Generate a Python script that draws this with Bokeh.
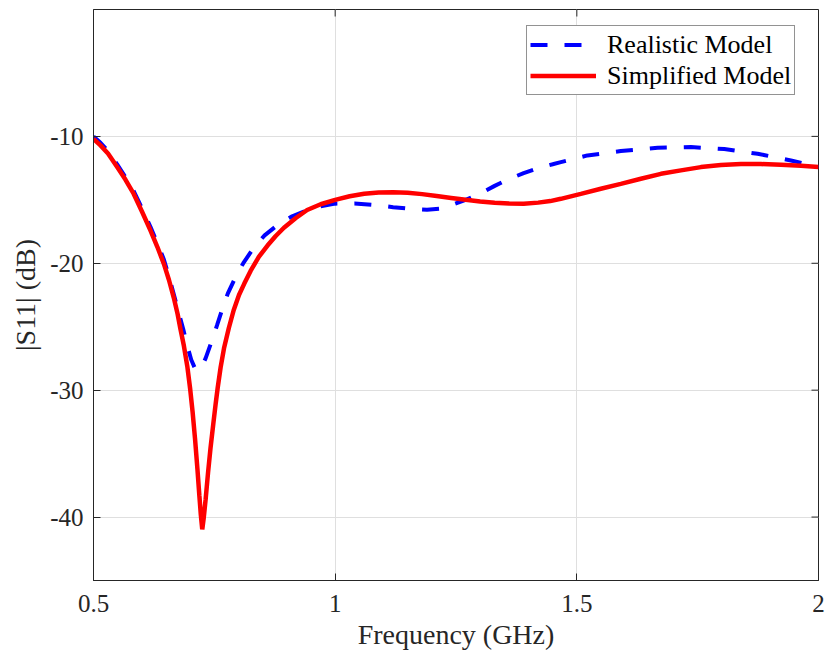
from bokeh.plotting import figure
from bokeh.models import (Range1d, FixedTicker, NumeralTickFormatter,
                          Legend, LegendItem, ColumnDataSource)
from bokeh.embed import file_html
from bokeh.resources import INLINE

# ---- data ----
freq_realistic = [0.500, 0.5145, 0.530, 0.549, 0.566, 0.583, 0.600, 0.618, 0.632, 0.6456,
                  0.655, 0.664, 0.675, 0.6857, 0.694, 0.7022, 0.709, 0.716, 0.723, 0.7319,
                  0.744, 0.756, 0.767, 0.778, 0.795, 0.811, 0.832, 0.854, 0.882, 0.911,
                  0.940, 0.970, 1.000, 1.040, 1.080, 1.120, 1.160, 1.190, 1.215, 1.240,
                  1.270, 1.300, 1.330, 1.360, 1.390, 1.420, 1.450, 1.4669, 1.522, 1.591,
                  1.667, 1.736, 1.805, 1.874, 1.943, 2.000]
s11_realistic = [-10.0, -10.5, -11.15, -12.2, -13.2, -14.3, -15.65, -17.15, -18.4, -19.7,
                 -20.9, -22.15, -23.7, -25.2, -26.5, -27.6, -28.2, -28.45, -28.2, -27.5,
                 -26.2, -24.84, -23.55, -22.37, -21.0, -19.92, -18.75, -17.8, -16.95, -16.3,
                 -15.85, -15.5, -15.3, -15.28, -15.4, -15.58, -15.72, -15.78, -15.7, -15.42,
                 -15.0, -14.5, -13.9, -13.35, -12.9, -12.5, -12.2, -12.03, -11.5, -11.16,
                 -10.9, -10.84, -11.0, -11.37, -11.9, -12.4]

freq_simplified = [0.500, 0.5145, 0.530, 0.549, 0.566, 0.583, 0.600, 0.618, 0.632, 0.6456,
                   0.656, 0.666, 0.674, 0.680, 0.687, 0.694, 0.700, 0.705, 0.710, 0.715,
                   0.719, 0.722, 0.725, 0.728, 0.732, 0.737, 0.742, 0.748, 0.753, 0.757,
                   0.763, 0.770, 0.780, 0.790, 0.801, 0.812, 0.825, 0.842, 0.860, 0.877,
                   0.894, 0.918, 0.942, 0.970, 1.000, 1.030, 1.060, 1.090, 1.120, 1.150,
                   1.180, 1.210, 1.240, 1.270, 1.300, 1.330, 1.360, 1.390, 1.420, 1.445,
                   1.4669, 1.5083, 1.5497, 1.591, 1.6325, 1.674, 1.7153, 1.7567, 1.798,
                   1.8395, 1.881, 1.9224, 1.9638, 2.000]
s11_simplified = [-10.2, -10.71, -11.35, -12.42, -13.4, -14.52, -15.9, -17.42, -18.7, -20.05,
                  -21.3, -22.7, -24.0, -25.2, -26.5, -28.1, -29.9, -31.7, -33.8, -36.2,
                  -38.3, -39.8, -40.97, -40.1, -38.6, -36.5, -34.6, -32.6, -31.0, -29.8,
                  -28.2, -26.7, -25.1, -23.7, -22.5, -21.6, -20.6, -19.5, -18.6, -17.85,
                  -17.2, -16.45, -15.8, -15.35, -15.0, -14.72, -14.52, -14.42, -14.4, -14.45,
                  -14.55, -14.7, -14.85, -15.0, -15.13, -15.23, -15.29, -15.3, -15.22, -15.1,
                  -14.92, -14.53, -14.13, -13.74, -13.34, -12.95, -12.68, -12.42, -12.26,
                  -12.18, -12.18, -12.24, -12.32, -12.42]

x_ticks = [0.5, 1.0, 1.5, 2.0]
y_ticks = [-40, -30, -20, -10]
series_names = ["Realistic Model", "Simplified Model"]

FONT = "Liberation Serif"
DARK = "#262626"
X0, X1, Y0, Y1 = 0.5, 2.0, -45, 0
FRAME_W, FRAME_H = 725, 571
TICK_PX = 7

p = figure(width=826, height=656, x_range=Range1d(X0, X1), y_range=Range1d(Y0, Y1),
           output_backend="svg", toolbar_location=None,
           min_border_left=93, min_border_right=8, min_border_top=9, min_border_bottom=76,
           background_fill_color="white", border_fill_color="white")

p.outline_line_color = DARK
p.outline_line_width = 1

# grid
p.xgrid.ticker = FixedTicker(ticks=x_ticks)
p.ygrid.ticker = FixedTicker(ticks=y_ticks)
for g in (p.xgrid[0], p.ygrid[0]):
    g.grid_line_color = "#dfdfdf"
    g.grid_line_width = 1

src_r = ColumnDataSource(dict(x=freq_realistic, y=s11_realistic))
src_s = ColumnDataSource(dict(x=freq_simplified, y=s11_simplified))
r_blue = p.line("x", "y", source=src_r, line_color="#0000ff", line_width=4,
                line_dash="17 17")
r_red = p.line("x", "y", source=src_s, line_color="#ff0000", line_width=4.5)

# main axes
for ax in (p.xaxis[0], p.yaxis[0]):
    ax.axis_line_color = DARK
    ax.major_tick_line_color = DARK
    ax.major_tick_in = TICK_PX
    ax.major_tick_out = 0
    ax.minor_tick_line_color = None
    ax.major_label_text_font = FONT
    ax.major_label_text_font_size = "25px"
    ax.major_label_text_color = DARK
    ax.axis_label_text_font = FONT
    ax.axis_label_text_font_size = "28px"
    ax.axis_label_text_font_style = "normal"
    ax.axis_label_text_color = DARK

p.xaxis[0].ticker = FixedTicker(ticks=x_ticks)
p.xaxis[0].formatter = NumeralTickFormatter(format="0.[0]")
p.xaxis[0].axis_label = "Frequency (GHz)"
p.xaxis[0].major_label_standoff = 14
p.xaxis[0].axis_label_standoff = 4

p.yaxis[0].ticker = FixedTicker(ticks=y_ticks)
p.yaxis[0].formatter = NumeralTickFormatter(format="0")
p.yaxis[0].axis_label = "|S11| (dB)"
p.yaxis[0].major_label_standoff = 10
p.yaxis[0].axis_label_standoff = 6

# mirrored inward tick marks on top and right edges (box on)
dx = TICK_PX * (X1 - X0) / FRAME_W
dy = TICK_PX * (Y1 - Y0) / FRAME_H
p.segment(x0=x_ticks, y0=[Y1] * len(x_ticks), x1=x_ticks, y1=[Y1 - dy] * len(x_ticks),
          line_color=DARK, line_width=1)
p.segment(x0=[X1] * len(y_ticks), y0=y_ticks, x1=[X1 - dx] * len(y_ticks), y1=y_ticks,
          line_color=DARK, line_width=1)

legend = Legend(items=[LegendItem(label=series_names[0], renderers=[r_blue]),
                       LegendItem(label=series_names[1], renderers=[r_red])],
                location=(433, 485))
legend.border_line_color = DARK
legend.border_line_width = 1
legend.background_fill_color = "white"
legend.background_fill_alpha = 1
legend.label_text_font = FONT
legend.label_text_font_size = "26px"
legend.label_text_color = "black"
legend.glyph_width = 66
legend.glyph_height = 31
legend.label_height = 31
legend.label_standoff = 11
legend.padding = 3
legend.spacing = 0
legend.margin = 0
p.add_layout(legend, "center")

open("out.html", "w").write(file_html(p, INLINE))
